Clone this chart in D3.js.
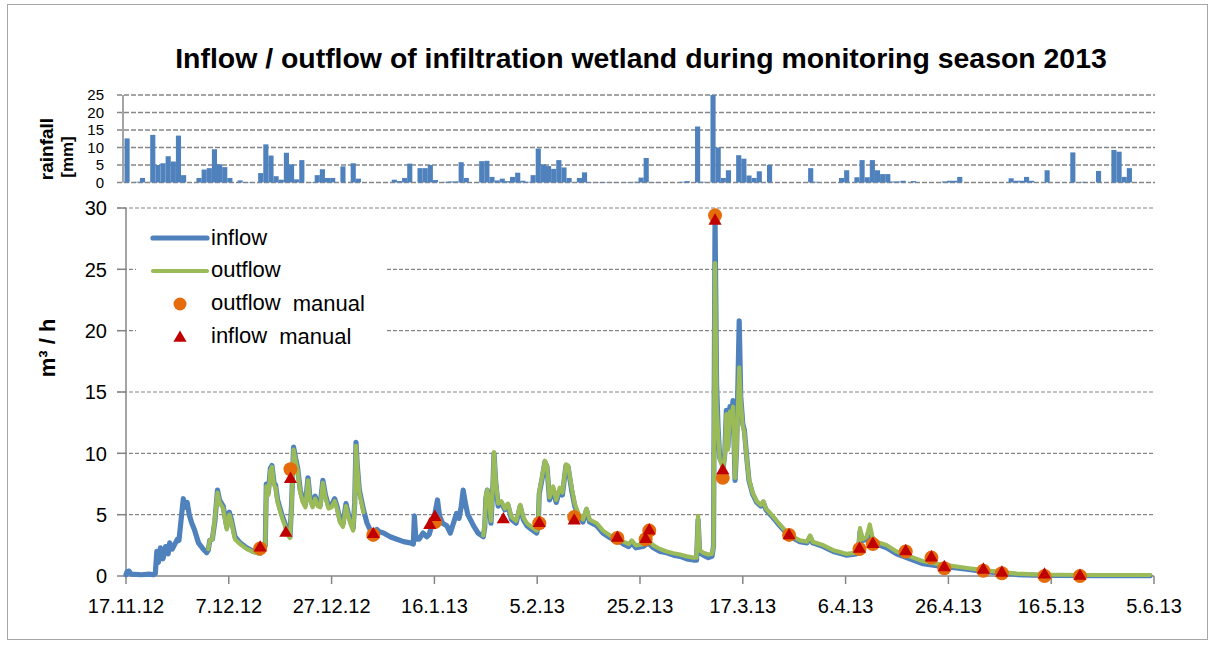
<!DOCTYPE html>
<html>
<head>
<meta charset="utf-8">
<script src="https://cdn.jsdelivr.net/npm/d3@7"></script>
<style>
  body { margin: 0; background: #fff; }
  text { font-family: "Liberation Sans", Arial, sans-serif; fill: #000; }
</style>
</head>
<body>
<div id="chart"></div>
<script>
// x tick labels, one every 20 days starting 17.11.12
const xTickDays = [0, 20, 40, 60, 80, 100, 120, 140, 160, 180, 200];
const xTickLabels = ["17.11.12", "7.12.12", "27.12.12", "16.1.13", "5.2.13", "25.2.13",
    "17.3.13", "6.4.13", "26.4.13", "16.5.13", "5.6.13"];
const flowTicks = [0, 5, 10, 15, 20, 25, 30];
const rainTicks = [0, 5, 10, 15, 20, 25];

// daily rainfall [mm], day 0 = 17.11.12
const rainfall = [
    12.6, 0, 0.2, 1.3, 0, 13.6, 5.0, 5.5, 7.5, 6.0,
    13.4, 2.1, 0, 0, 1.3, 3.7, 4.1, 9.5, 5.2, 4.4,
    1.3, 0, 0.6, 0.1, 0.1, 0, 2.7, 10.9, 7.7, 1.8,
    0.8, 8.5, 5.2, 0.9, 6.4, 0, 0.1, 2.1, 3.8, 1.3,
    1.3, 0, 4.6, 0, 5.5, 1.1, 0, 0, 0, 0,
    0, 0, 0.8, 0.4, 1.3, 5.4, 0, 4.1, 4.1, 5.0,
    0.7, 0, 0.2, 0.3, 0.3, 5.8, 1.3, 0, 0.1, 6.1,
    6.2, 1.6, 0.6, 1.1, 0.4, 1.6, 2.8, 0.5, 0.2, 2.1,
    9.7, 5.2, 4.7, 3.9, 6.4, 4.3, 1.3, 0, 1.3, 2.9,
    0.1, 0, 0.1, 0.1, 0, 0.1, 0, 0.1, 0, 0.2,
    1.4, 7.0, 0, 0.1, 0, 0, 0, 0, 0.2, 0.4,
    0, 16.0, 0.2, 0, 25, 10.0, 1.3, 3.5, 0, 7.8,
    6.8, 2.0, 1.3, 3.2, 0, 5.0, 0, 0, 0, 0,
    0, 0, 0, 4.1, 0.2, 0, 0, 0, 0, 1.3,
    3.5, 0, 1.5, 6.4, 1.5, 6.4, 3.5, 2.4, 2.4, 0.3,
    0.3, 0.5, 0, 0.4, 0, 0, 0, 0, 0, 0.3,
    0.5, 0.5, 1.6, 0, 0, 0, 0, 0, 0, 0,
    0, 0, 1.2, 0.5, 0.5, 1.6, 0.5, 0, 0, 3.5,
    0, 0, 0, 0, 8.6, 0, 0.2, 0, 0, 3.3,
    0, 0, 9.3, 8.8, 1.6, 4.1, 0, 0, 0, 0
];

// inflow [m3/h]
const inflowDay = [0, 0.2, 0.6, 1, 3, 4.5, 5.3, 5.7, 6.0, 6.3, 6.7, 7.2, 7.7, 8.2, 8.5, 9.0, 9.5, 10.0, 10.3, 10.7,
    11.15, 11.5, 11.9, 12.3, 12.8, 13.3, 14.1, 15.0, 15.7, 16.0, 16.3, 16.8, 17.3, 17.8, 18.2, 18.9, 19.6, 20.1, 20.5, 21.2,
    22.2, 23.5, 24.8, 26.1, 26.8, 27.1, 27.3, 27.7, 28.1, 28.4, 28.8, 29.1, 29.5, 29.9, 30.4, 31.0, 31.5, 31.9, 32.2, 32.6,
    33.0, 33.4, 33.9, 34.4, 34.9, 35.4, 35.8, 36.3, 36.8, 37.3, 37.8, 38.3, 38.8, 39.4, 40.0, 40.6, 41.1, 41.6, 42.2, 42.8,
    43.3, 43.8, 44.2, 44.5, 44.75, 45.0, 45.4, 46.2, 46.9, 47.8, 48.8, 49.3, 50.1, 51.4, 52.7, 54.0, 55.3, 55.9, 56.1, 56.4,
    57.0, 57.8, 58.5, 59.0, 59.4, 60.1, 60.6, 61.0, 61.6, 62.4, 63.1, 63.7, 64.3, 64.8, 65.2, 65.6, 66.0, 66.5, 67.0, 67.6,
    68.5, 69.5, 69.8, 70.0, 70.3, 70.7, 71.0, 71.4, 71.6, 71.9, 72.4, 73.0, 73.7, 74.3, 75.0, 75.9, 76.7, 77.3, 78.0, 78.9,
    79.9, 80.2, 80.4, 80.9, 81.5, 81.9, 82.4, 83.1, 83.7, 84.4, 84.9, 85.6, 86.0, 86.7, 87.3, 88.0, 88.9, 89.6, 90.2, 91.6,
    92.8, 94.2, 95.5, 96.8, 97.8, 98.4, 99.2, 100.6, 101.6, 102.6, 103.9, 105.2, 106.5, 107.8, 109.1, 110.4, 111.0, 111.3, 111.6, 112.3,
    113.3, 114.0, 114.3, 114.6, 114.9, 115.2, 115.5, 116.2, 116.5, 116.8, 117.1, 117.5, 117.8, 118.1, 118.5, 118.8, 119.3, 119.6, 120.0, 120.3,
    120.8, 121.2, 121.9, 122.7, 123.5, 124.0, 124.5, 125.6, 127.2, 128.5, 129.8, 131.1, 132.5, 133.1, 133.6, 135.7, 137.6, 138.9, 140.2, 142.1,
    142.5, 142.8, 143.3, 144.1, 144.7, 145.2, 146.0, 148.0, 149.9, 152.5, 155.1, 157.7, 160.3, 163.6, 166.8, 170.0, 173.3, 176.5, 179.8, 190,
    199.2];
const inflowVal = [0.1, 0.35, 0.4, 0.15, 0.1, 0.15, 0.1, 0.2, 2.0, 1.1, 2.3, 1.4, 2.4, 1.8, 2.7, 2.2, 2.6, 3.0, 2.9, 4.5,
    6.3, 5.6, 6.0, 5.0, 4.3, 3.8, 2.7, 2.2, 1.9, 2.1, 2.9, 3.0, 4.5, 7.0, 6.2, 5.7, 4.0, 5.2, 4.6, 3.2,
    2.7, 2.3, 2.0, 1.85, 2.2, 2.5, 7.5, 6.8, 8.8, 9.0, 7.6, 7.4, 6.2, 5.6, 4.9, 4.2, 3.5, 3.2, 5.7, 10.5,
    9.6, 8.8, 7.0, 6.2, 5.8, 8.0, 6.4, 5.8, 6.5, 5.9, 5.8, 7.8, 6.6, 5.7, 5.8, 6.3, 5.6, 4.6, 4.2, 5.9,
    5.0, 4.3, 3.9, 6.0, 10.9, 9.0, 7.0, 5.4, 4.3, 3.5, 3.8, 3.6, 3.5, 3.2, 3.0, 2.8, 2.7, 2.6, 4.9, 3.0,
    3.0, 3.5, 3.2, 3.4, 4.0, 5.1, 6.2, 4.9, 4.3, 4.1, 3.5, 4.3, 5.1, 4.7, 5.6, 7.0, 6.0, 5.0, 4.6, 4.1,
    3.5, 3.2, 4.0, 6.3, 7.0, 5.6, 4.3, 7.5, 10.0, 7.8, 5.7, 6.0, 5.4, 5.8, 4.6, 4.3, 5.7, 4.6, 4.1, 3.8,
    3.5, 4.2, 6.7, 7.8, 9.3, 8.9, 6.2, 7.1, 6.0, 7.0, 6.6, 9.0, 8.9, 7.0, 5.7, 4.9, 4.4, 5.4, 4.4, 4.1,
    3.5, 3.1, 3.0, 2.6, 2.4, 2.7, 2.3, 2.4, 2.7, 2.3, 2.0, 1.9, 1.7, 1.6, 1.4, 1.3, 1.3, 4.6, 1.9, 1.7,
    1.5, 1.6, 2.4, 29.2, 15.6, 12.0, 9.7, 8.9, 10.0, 13.5, 10.5, 13.8, 13.0, 14.3, 7.8, 10.5, 20.8, 14.6, 12.4, 11.9,
    9.5, 7.8, 6.7, 6.0, 5.7, 6.0, 5.4, 4.9, 4.1, 3.5, 3.1, 2.8, 2.7, 3.2, 2.7, 2.4, 2.0, 1.85, 1.7, 1.8,
    2.0, 3.6, 2.9, 3.0, 3.8, 3.0, 2.6, 2.3, 1.8, 1.4, 1.0, 0.85, 0.72, 0.55, 0.38, 0.25, 0.12, 0.07, 0.04, 0.03,
    0.03];

// outflow [m3/h], null = no record
const outflowDay = [16.0, 16.3, 16.8, 17.3, 17.8, 18.2, 18.9, 19.6, 20.1, 20.5, 21.2, 22.2, 23.5, 24.8, 26.1, 26.8, 27.1, 27.3, 27.7, 28.1,
    28.4, 28.8, 29.1, 29.5, 29.9, 30.4, 31.0, 31.5, 31.9, 32.2, 32.6, 33.0, 33.4, 33.9, 34.4, 34.9, 35.4, 35.8, 36.3, 36.8,
    37.3, 37.8, 38.3, 38.8, 39.4, 40.0, 40.6, 41.1, 41.6, 42.2, 42.8, 43.3, 43.8, 44.2, 44.5, 44.75, 45.0, 45.4, 46.2, 46.5,
    69.5, 69.8, 70.0, 70.3, 70.7, 71.0, 71.4, 71.6, 71.9, 72.4, 73.0, 73.7, 74.3, 75.0, 75.9, 76.7, 77.3, 78.0, 78.9, 79.9,
    80.2, 80.4, 80.9, 81.5, 81.9, 82.4, 83.1, 83.7, 84.4, 84.9, 85.6, 86.0, 86.7, 87.3, 88.0, 88.9, 89.6, 90.2, 91.6, 92.8,
    94.2, 95.5, 96.8, 97.8, 98.4, 99.2, 100.6, 101.6, 102.6, 103.9, 105.2, 106.5, 107.8, 109.1, 110.4, 111.0, 111.3, 111.6, 112.3, 113.3,
    114.0, 114.3, 114.6, 114.9, 115.2, 115.5, 116.2, 116.5, 116.8, 117.1, 117.5, 117.8, 118.1, 118.5, 118.8, 119.3, 119.6, 120.0, 120.3, 120.8,
    121.2, 121.9, 122.7, 123.5, 124.0, 124.5, 125.6, 127.2, 128.5, 129.8, 131.1, 132.5, 133.1, 133.6, 135.7, 137.6, 138.9, 140.2, 142.1, 142.5,
    142.8, 143.3, 144.1, 144.7, 145.2, 146.0, 148.0, 149.9, 152.5, 155.1, 157.7, 160.3, 163.6, 166.8, 170.0, 173.3, 176.5, 179.8, 190, 199.2];
const outflowVal = [2.2, 2.9, 3.0, 4.7, 6.8, 6.0, 5.5, 3.8, 5.0, 4.4, 3.0, 2.6, 2.2, 1.95, 1.8, 2.1, 2.4, 7.3, 6.6, 8.6,
    8.9, 7.4, 7.2, 6.0, 5.4, 4.7, 4.0, 3.4, 3.1, 5.5, 10.3, 9.4, 8.6, 6.8, 6.0, 5.6, 7.8, 6.2, 5.6, 6.3,
    5.7, 5.6, 7.6, 6.4, 5.5, 5.6, 6.1, 5.4, 4.4, 4.0, 5.7, 4.8, 4.1, 3.7, 5.8, 10.6, 8.8, 6.8, 5.2, null,
    3.3, 4.2, 6.5, 7.0, 5.8, 4.5, 7.7, 10.1, 7.9, 5.9, 6.1, 5.5, 5.9, 4.8, 4.5, 5.8, 4.8, 4.3, 4.0, 3.7,
    4.4, 6.9, 8.0, 9.4, 9.0, 6.4, 7.3, 6.2, 7.2, 6.8, 9.1, 9.0, 7.2, 5.9, 5.1, 4.6, 5.5, 4.6, 4.3, 3.7,
    3.3, 3.2, 2.8, 2.6, 2.9, 2.5, 2.6, 2.9, 2.5, 2.2, 2.0, 1.85, 1.75, 1.6, 1.5, 1.5, 4.9, 2.1, 1.9, 1.75,
    1.8, 2.4, 25.5, 14.0, 11.5, 9.5, 8.8, 9.8, 13.2, 10.3, 13.4, 12.8, 13.8, 8.0, 10.3, 17.0, 14.2, 12.2, 11.7, 9.4,
    7.9, 6.8, 6.1, 5.8, 6.1, 5.5, 5.0, 4.2, 3.6, 3.2, 2.9, 2.8, 3.3, 2.8, 2.5, 2.1, 1.95, 1.8, 1.9, 2.2,
    3.9, 3.0, 3.2, 4.2, 3.2, 2.8, 2.5, 2.0, 1.6, 1.2, 1.0, 0.85, 0.65, 0.48, 0.33, 0.2, 0.13, 0.1, 0.08, 0.08];

// manual measurements
const manualDay = [26.1, 31.1, 32.0, 48.1, 59.1, 60.1, 73.4, 80.4, 87.2, 95.6, 101.1, 101.8,
    114.6, 116.1, 129.0, 142.7, 145.3, 151.7, 156.7, 159.2, 166.8, 170.4, 178.7, 185.6];
const outflowManual = [2.25, null, 8.7, 3.35, null, 4.4, null, 4.3, 4.8, 3.1, 3.0, 3.7,
    29.4, 8.0, 3.35, 2.2, 2.6, 2.0, 1.5, 0.63, 0.43, 0.22, 0.0, 0.0];
const inflowManual = [2.3, 3.5, 7.9, 3.4, 4.15, 4.8, 4.6, 4.3, 4.5, 3.1, 3.0, 3.7,
    28.95, 8.6, 3.3, 2.2, 2.6, 2.0, 1.5, 0.7, 0.5, 0.25, 0.1, 0.0];

const width = 1213;
const height = 646;

const blue = "#4F81BD";
const green = "#9BBB59";
const orange = "#E46C0A";
const red = "#C00000";
const gridColour = "#868686";

const svg = d3.select("#chart").append("svg")
    .attr("width", width)
    .attr("height", height);

// chart area border
svg.append("rect")
    .attr("x", 7.5).attr("y", 4.5)
    .attr("width", 1200).attr("height", 635)
    .attr("fill", "#fff")
    .attr("stroke", "#a6a6a6");

const x = d3.scaleLinear().domain([0, 200]).range([126, 1154]);
const xRain = d3.scaleLinear().domain([0, 200]).range([124.5, 1152.5]);
const y = d3.scaleLinear().domain([0, 30]).range([576, 208]);
const yRain = d3.scaleLinear().domain([0, 25]).range([182.5, 95]);

// title, scaled to the width it has in the original
const title = svg.append("text")
    .attr("x", 641).attr("y", 68)
    .attr("text-anchor", "middle")
    .style("font-weight", "bold")
    .style("font-size", "24px")
    .text("Inflow / outflow of infiltration wetland during monitoring season 2013");
const tl = title.node().getComputedTextLength();
title.style("font-size", (24 * 932 / tl) + "px");

// ---- rainfall panel ----
svg.append("g").selectAll("line")
    .data(rainTicks)
    .join("line")
    .attr("x1", 117).attr("x2", 1155)
    .attr("y1", d => yRain(d)).attr("y2", d => yRain(d))
    .attr("stroke", gridColour)
    .attr("stroke-width", 1.6)
    .attr("stroke-dasharray", "5,2");

svg.append("g").selectAll("rect")
    .data(rainfall)
    .join("rect")
    .attr("x", (d, i) => xRain(i))
    .attr("width", (d, i) => xRain(i + 1) - xRain(i))
    .attr("y", d => yRain(d))
    .attr("height", d => yRain(0) - yRain(d))
    .attr("fill", blue);

svg.append("line")
    .attr("x1", 123).attr("x2", 123)
    .attr("y1", yRain(25)).attr("y2", yRain(0))
    .attr("stroke", gridColour).attr("stroke-width", 1.5);

svg.append("g").selectAll("text")
    .data(rainTicks)
    .join("text")
    .attr("x", 104)
    .attr("y", d => yRain(d))
    .attr("dy", "0.36em")
    .attr("text-anchor", "end")
    .style("font-size", "15px")
    .text(d => d);

svg.append("text")
    .attr("transform", "translate(53,149) rotate(-90)")
    .attr("text-anchor", "middle")
    .style("font-weight", "bold")
    .style("font-size", "19px")
    .text("rainfall");
svg.append("text")
    .attr("transform", "translate(73,157) rotate(-90)")
    .attr("text-anchor", "middle")
    .style("font-weight", "bold")
    .style("font-size", "17px")
    .text("[mm]");

// ---- flow panel ----
svg.append("g").selectAll("line")
    .data(flowTicks.filter(d => d > 0))
    .join("line")
    .attr("x1", 117).attr("x2", 1154)
    .attr("y1", d => y(d)).attr("y2", d => y(d))
    .attr("stroke", gridColour)
    .attr("stroke-width", 1.1)
    .attr("stroke-dasharray", "4,2");

// y axis with ticks
svg.append("line")
    .attr("x1", 126).attr("x2", 126)
    .attr("y1", y(30)).attr("y2", y(0))
    .attr("stroke", gridColour).attr("stroke-width", 1.5);
svg.append("g").selectAll("line")
    .data(flowTicks)
    .join("line")
    .attr("x1", 117).attr("x2", 126)
    .attr("y1", d => y(d)).attr("y2", d => y(d))
    .attr("stroke", gridColour).attr("stroke-width", 1.5);

// x axis with ticks
svg.append("line")
    .attr("x1", x(0)).attr("x2", x(200))
    .attr("y1", y(0)).attr("y2", y(0))
    .attr("stroke", gridColour).attr("stroke-width", 1.5);
svg.append("g").selectAll("line")
    .data(xTickDays)
    .join("line")
    .attr("x1", d => x(d)).attr("x2", d => x(d))
    .attr("y1", y(0)).attr("y2", y(0) + 8)
    .attr("stroke", gridColour).attr("stroke-width", 1.5);

svg.append("g").selectAll("text")
    .data(flowTicks)
    .join("text")
    .attr("x", 107)
    .attr("y", d => y(d))
    .attr("dy", "0.36em")
    .attr("text-anchor", "end")
    .style("font-size", "20px")
    .text(d => d);

svg.append("g").selectAll("text")
    .data(xTickDays)
    .join("text")
    .attr("x", d => x(d))
    .attr("y", 613)
    .attr("text-anchor", "middle")
    .style("font-size", "20px")
    .text((d, i) => xTickLabels[i]);

svg.append("text")
    .attr("transform", "translate(55,348) rotate(-90)")
    .attr("text-anchor", "middle")
    .style("font-weight", "bold")
    .style("font-size", "22px")
    .text("m³ / h");

// legend box sits above the grid lines
const lg = svg.append("g");
lg.append("rect")
    .attr("x", 136).attr("y", 220)
    .attr("width", 250).attr("height", 138)
    .attr("fill", "#fff");

// flow lines
const inflow = inflowDay.map((d, i) => ({ d: d, v: inflowVal[i] }));
const outflow = outflowDay.map((d, i) => ({ d: d, v: outflowVal[i] }));

const line = d3.line()
    .defined(p => p.v != null)
    .x(p => x(p.d))
    .y(p => y(p.v));

svg.append("path")
    .datum(inflow)
    .attr("d", line)
    .attr("fill", "none")
    .attr("stroke", blue)
    .attr("stroke-width", 5.2)
    .attr("stroke-linejoin", "round")
    .attr("stroke-linecap", "round");

svg.append("path")
    .datum(outflow)
    .attr("d", line)
    .attr("fill", "none")
    .attr("stroke", green)
    .attr("stroke-width", 4.2)
    .attr("stroke-linejoin", "round")
    .attr("stroke-linecap", "round");

// manual points
const manual = manualDay.map((d, i) => ({ d: d, o: outflowManual[i], n: inflowManual[i] }));

svg.append("g").selectAll("circle")
    .data(manual.filter(p => p.o != null))
    .join("circle")
    .attr("cx", p => x(p.d))
    .attr("cy", p => y(p.o))
    .attr("r", 7)
    .attr("fill", orange);

const tri = d3.symbol().type(d3.symbolTriangle).size(75);
svg.append("g").selectAll("path")
    .data(manual.filter(p => p.n != null))
    .join("path")
    .attr("d", tri)
    .attr("transform", p => "translate(" + x(p.d) + "," + y(p.n) + ")")
    .attr("fill", red);

// legend entries
lg.raise();
lg.append("line")
    .attr("x1", 153).attr("x2", 207).attr("y1", 238).attr("y2", 238)
    .attr("stroke", blue).attr("stroke-width", 5.2).attr("stroke-linecap", "round");
lg.append("line")
    .attr("x1", 153).attr("x2", 207).attr("y1", 271).attr("y2", 271)
    .attr("stroke", green).attr("stroke-width", 4.2).attr("stroke-linecap", "round");
lg.append("circle")
    .attr("cx", 180).attr("cy", 304).attr("r", 6.5)
    .attr("fill", orange);
lg.append("path")
    .attr("d", tri)
    .attr("transform", "translate(180,338)")
    .attr("fill", red);

const legendText = [
    { t: "inflow", y: 245 },
    { t: "outflow", y: 277 },
    { t: "outflow", y: 310, extra: "manual" },
    { t: "inflow", y: 343, extra: "manual" }
];
legendText.forEach(function (e) {
    const t = lg.append("text")
        .attr("x", 211).attr("y", e.y)
        .style("font-size", "22px");
    t.append("tspan").text(e.t);
    if (e.extra) {
        t.append("tspan").attr("dx", 12).attr("dy", 1).text(e.extra);
    }
});
</script>
</body>
</html>
